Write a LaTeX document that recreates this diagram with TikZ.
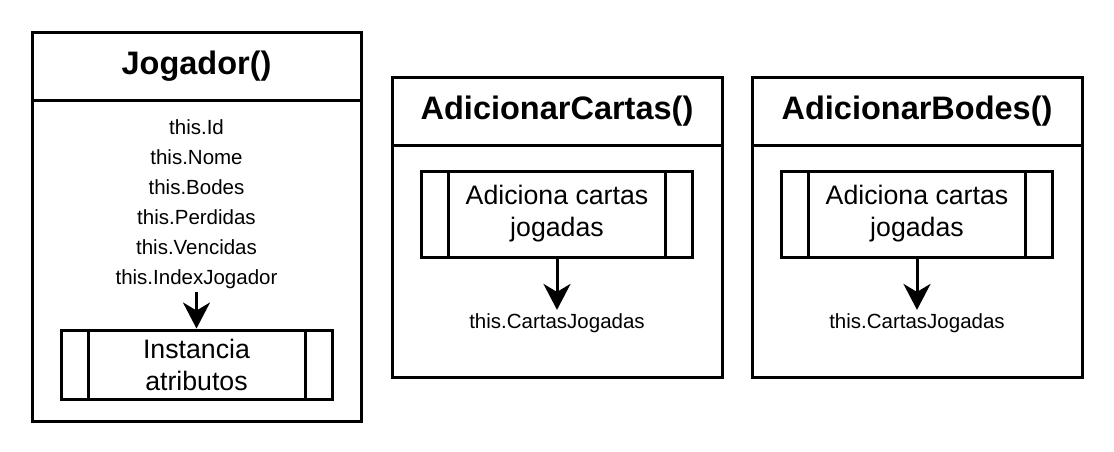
\documentclass[tikz,border=0pt]{standalone}
\usepackage{fontspec}
\setmainfont{Liberation Sans}
\usetikzlibrary{arrows.meta,positioning}

\tikzset{
  classhead/.style={draw, line width=3pt, outer sep=0pt, minimum width=330pt, minimum height=68pt,
    font=\bfseries\fontsize{32.5}{39}\selectfont},
  classbody/.style={draw, line width=3pt, outer sep=0pt, minimum width=330pt},
  procbox/.style={draw, line width=3pt, minimum width=271pt, align=center,
    font=\fontsize{26.7}{32}\selectfont,
    path picture={
      \draw[line width=3pt] ([xshift=27pt]path picture bounding box.north west) -- ([xshift=27pt]path picture bounding box.south west);
      \draw[line width=3pt] ([xshift=-27pt]path picture bounding box.north east) -- ([xshift=-27pt]path picture bounding box.south east);
    }},
  attr/.style={align=center, font=\fontsize{20.5}{30}\selectfont},
  flow/.style={line width=3pt, -{Stealth[length=26pt,width=27pt,inset=8pt]}}
}

\begin{document}
\begin{tikzpicture}[x=1pt, y=-1pt]
    \useasboundingbox (0,0) rectangle (1114,451);

    % Jogador
    \node[classhead, minimum width=329pt] (jog-head) at (196.5,66) {Jogador()};
    \node[classbody, minimum width=329pt, minimum height=321pt, below=0pt of jog-head] (jog-body) {};
    \node[attr] (jog-attrs) at (196.5,204) {this.Id\\this.Nome\\this.Bodes\\this.Perdidas\\this.Vencidas\\this.IndexJogador};
    \node[procbox, minimum height=69pt] (jog-inst) at (196.5,364.5) {Instancia\\atributos};
    \draw[flow] (jog-attrs) -- (jog-inst);

    % AdicionarCartas / AdicionarBodes
    \foreach \cx/\title/\nm in {557/AdicionarCartas()/cartas, 917/AdicionarBodes()/bodes} {
        \node[classhead] (\nm-head) at (\cx,111) {\title};
        \node[classbody, minimum height=232pt, below=0pt of \nm-head] (\nm-body) {};
        \node[procbox, minimum height=86pt] (\nm-proc) at (\cx,214) {Adiciona cartas\\jogadas};
        \node[attr] (\nm-out) at (\cx,323) {this.CartasJogadas};
        \draw[flow] (\nm-proc) -- (\nm-out);
    }
\end{tikzpicture}
\end{document}
